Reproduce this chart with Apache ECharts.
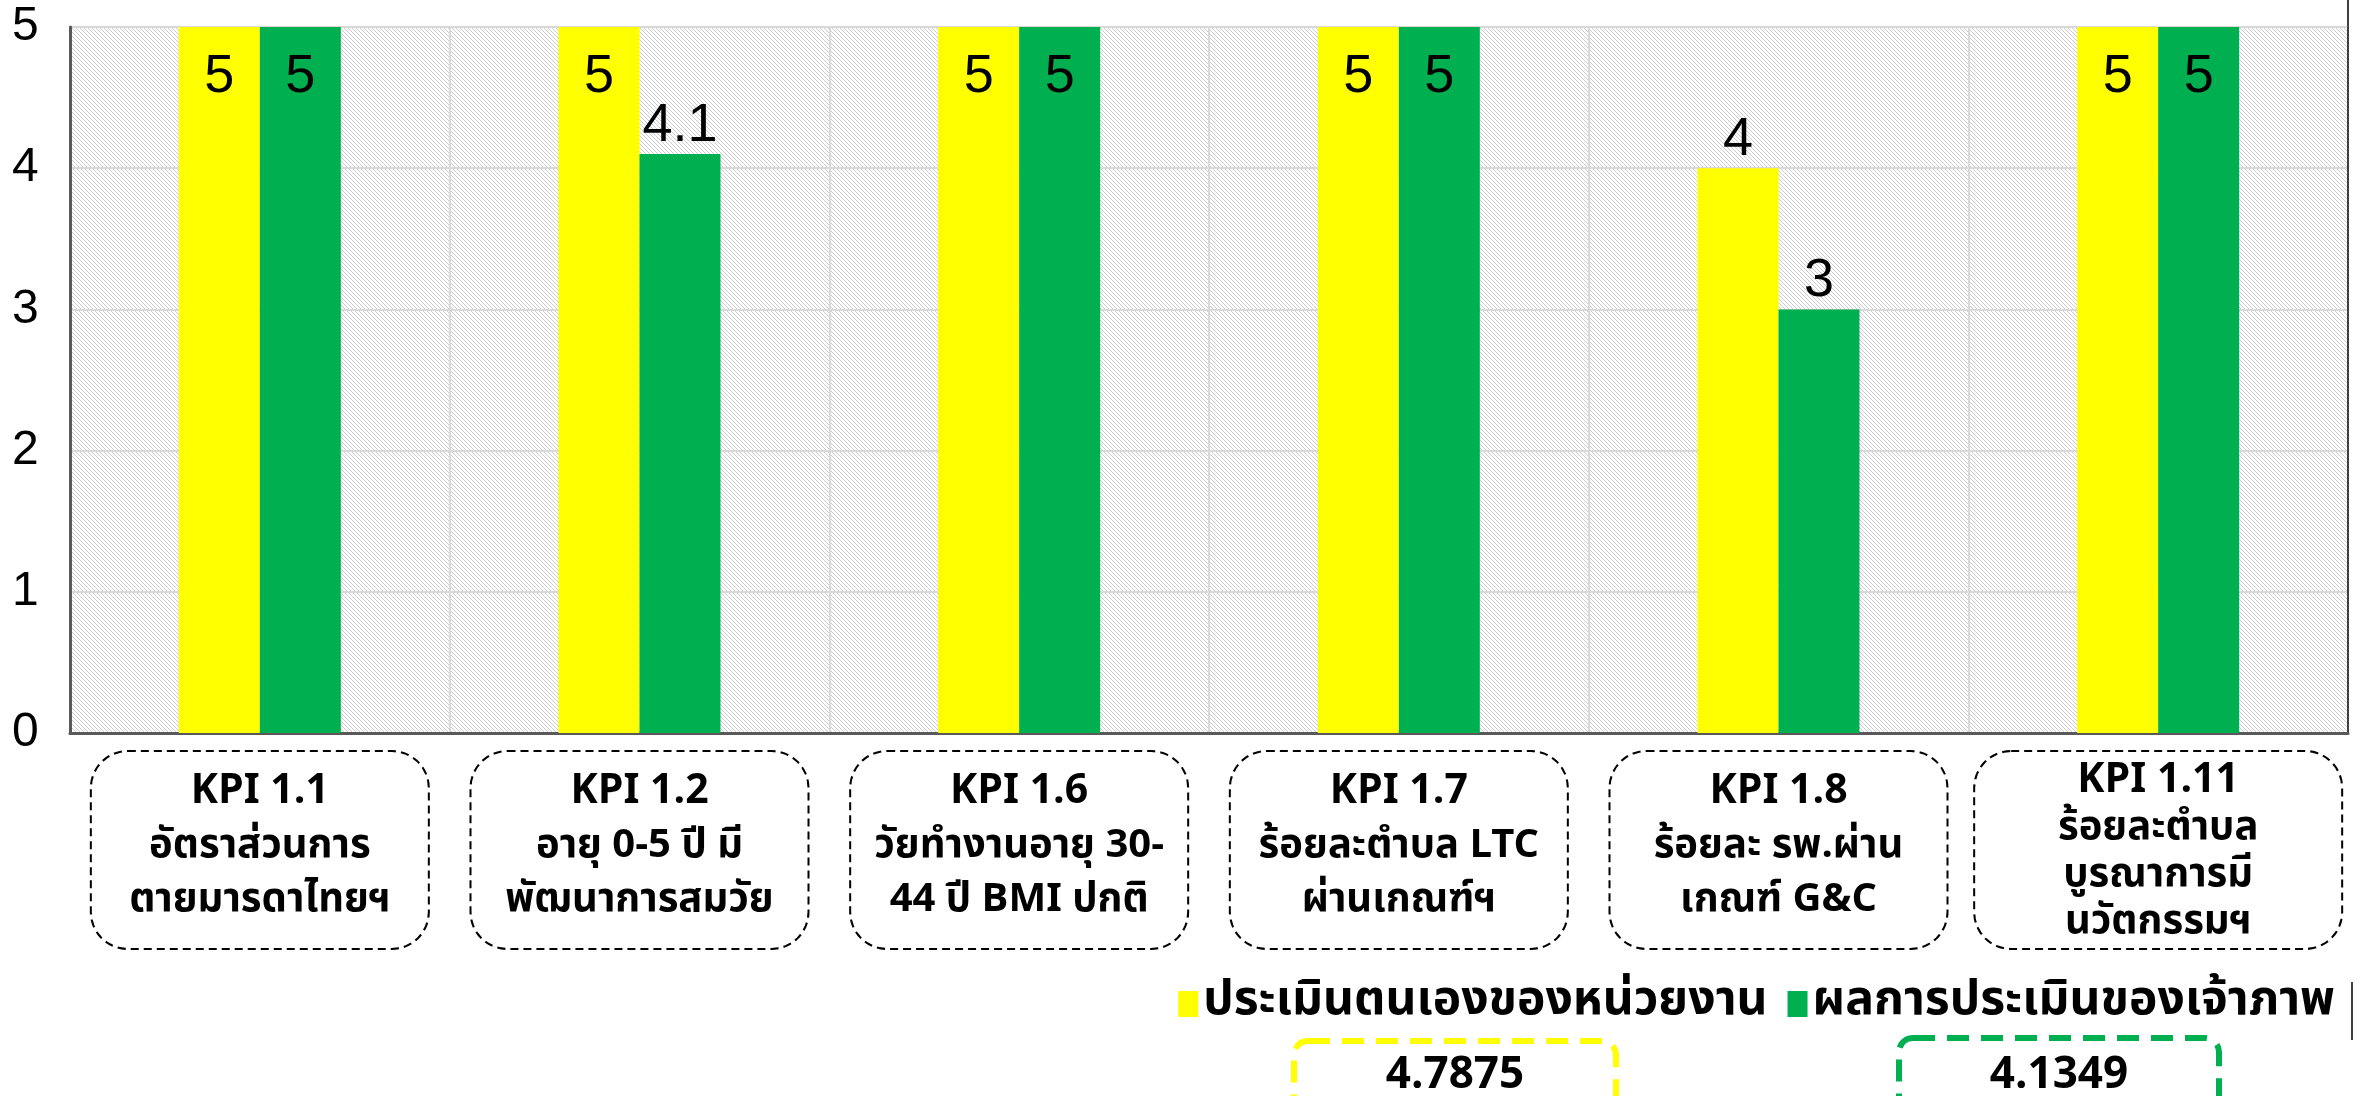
<!DOCTYPE html>
<html>
<head>
<meta charset="utf-8">
<script src="https://cdn.jsdelivr.net/npm/echarts@6/dist/echarts.min.js"></script>
<style>
  html, body { margin: 0; padding: 0; background: #fff; }
  #main { width: 2362px; height: 1096px; }
</style>
</head>
<body>
<div id="main"></div>
<script>
// ข้อมูล
var categories = [
  'KPI 1.1\nอัตราส่วนการ\nตายมารดาไทยฯ',
  'KPI 1.2\nอายุ 0-5 ปี มี\nพัฒนาการสมวัย',
  'KPI 1.6\nวัยทำงานอายุ 30-\n44 ปี BMI ปกติ',
  'KPI 1.7\nร้อยละตำบล LTC\nผ่านเกณฑ์ฯ',
  'KPI 1.8\nร้อยละ รพ.ผ่าน\nเกณฑ์ G&C',
  'KPI 1.11\nร้อยละตำบล\nบูรณาการมี\nนวัตกรรมฯ'
];
var seriesNames = ['ประเมินตนเองของหน่วยงาน', 'ผลการประเมินของเจ้าภาพ'];
var selfScores = [5, 5, 5, 5, 4, 5];
var hostScores = [5, 4.1, 5, 5, 3, 5];
var summaryValues = ['4.7875', '4.1349'];
var yTicks = [0, 1, 2, 3, 4, 5];

var YELLOW = '#FFFF00';
var GREEN = '#00B050';
var thaiFont = "Tahoma, 'Noto Sans Thai', 'Noto Sans Thai Looped', 'DejaVu Sans', sans-serif";
var numFont = "'Liberation Sans Narrow', 'Liberation Sans', sans-serif";

// ลายเส้นทแยงพื้นหลัง
var tile = document.createElement('canvas');
tile.width = 4;
tile.height = 4;
var tctx = tile.getContext('2d');
tctx.fillStyle = '#ffffff';
tctx.fillRect(0, 0, 4, 4);
tctx.fillStyle = '#cdcdcd';
for (var i = 0; i < 4; i++) {
  tctx.fillRect(i, i, 1, 1);
}

function barData(values) {
  var top = yTicks[yTicks.length - 1];
  return values.map(function (v) {
    return {
      value: v,
      label: v >= top ? {position: 'insideTop', distance: 23} : {position: 'top', distance: 1}
    };
  });
}

var catData = categories.map(function (c, idx) {
  var lines = c.split('\n');
  var txt = '{k|' + lines[0] + '}';
  for (var j = 1; j < lines.length; j++) txt += '\n{t|' + lines[j] + '}';
  var item = {value: c, _text: txt};
  if (lines.length > 3) {
    item.textStyle = {padding: [8, 8, 0, 8], width: 350, rich: {
      k: {lineHeight: 47}, t: {lineHeight: 47}
    }};
  }
  return item;
});

var chart = echarts.init(document.getElementById('main'));
var option = {
  backgroundColor: '#fff',
  animation: false,
  grid: {
    left: 70, right: 14, top: 27, bottom: 363,
    show: true,
    backgroundColor: {image: tile, repeat: 'repeat'},
    borderWidth: 0
  },
  legend: {
    data: seriesNames,
    right: 22,
    top: 975,
    icon: 'rect',
    itemWidth: 20,
    itemHeight: 26,
    itemGap: 20,
    itemTextGap: 10,
    textStyle: {
      fontFamily: thaiFont,
      fontWeight: 'bold',
      fontSize: 48,
      color: '#000'
    }
  },
  xAxis: {
    type: 'category',
    data: catData,
    axisLine: {lineStyle: {color: '#595959', width: 3}},
    axisTick: {show: false},
    splitLine: {show: true, lineStyle: {color: '#d9d9d9', width: 2}},
    axisLabel: {
      interval: 0,
      margin: 19,
      formatter: function (val, idx) { return catData[idx]._text; },
      width: 320,
      padding: [16, 8, 18, 8],
      borderColor: '#000',
      borderWidth: 2,
      borderType: [8, 5],
      borderRadius: 36,
      backgroundColor: '#fff',
      align: 'center',
      rich: {
        k: {fontFamily: thaiFont, fontWeight: 'bold', fontSize: 41, lineHeight: 54, color: '#000', align: 'center'},
        t: {fontFamily: thaiFont, fontWeight: 'bold', fontSize: 40, lineHeight: 54, color: '#000', align: 'center'}
      }
    }
  },
  yAxis: [{
    type: 'value',
    min: 0,
    max: 5,
    interval: 1,
    axisLine: {show: true, lineStyle: {color: '#595959', width: 3}},
    axisTick: {show: false},
    splitLine: {lineStyle: {color: '#d9d9d9', width: 2}},
    axisLabel: {
      margin: 58,
      align: 'left',
      fontFamily: numFont,
      fontSize: 48,
      color: '#000'
    }
  }, {
    type: 'value',
    position: 'right',
    min: 0,
    max: 5,
    interval: 1,
    axisLine: {show: true, lineStyle: {color: '#404040', width: 2}},
    axisTick: {show: false},
    axisLabel: {show: false},
    splitLine: {show: false}
  }],
  series: [{
    name: seriesNames[0],
    type: 'bar',
    data: barData(selfScores),
    itemStyle: {color: YELLOW},
    barWidth: 81,
    barGap: '0%',
    label: {show: true, fontFamily: numFont, fontSize: 54, color: '#000'}
  }, {
    name: seriesNames[1],
    type: 'bar',
    data: barData(hostScores),
    itemStyle: {color: GREEN},
    barWidth: 81,
    barGap: '0%',
    label: {show: true, fontFamily: numFont, fontSize: 54, color: '#000'}
  }],
  graphic: [
    {
      type: 'line',
      shape: {x1: 2348, y1: 0, x2: 2348, y2: 30},
      style: {stroke: '#404040', lineWidth: 2}
    },
    {
      type: 'line',
      shape: {x1: 2352, y1: 982, x2: 2352, y2: 1040},
      style: {stroke: '#404040', lineWidth: 2}
    },
    {
      type: 'group',
      left: 1291,
      top: 1038,
      children: [
        {type: 'rect', shape: {x: 0, y: 0, width: 322, height: 72, r: 14},
          style: {fill: '#fff', stroke: YELLOW, lineWidth: 6, lineDash: [22, 12]}},
        {type: 'text', x: 161, y: 38,
          style: {text: summaryValues[0], fontFamily: thaiFont, fontWeight: 'bold', fontSize: 44,
            fill: '#000', align: 'center', verticalAlign: 'middle'}}
      ]
    },
    {
      type: 'group',
      left: 1896,
      top: 1035,
      children: [
        {type: 'rect', shape: {x: 0, y: 0, width: 320, height: 75, r: 14},
          style: {fill: '#fff', stroke: GREEN, lineWidth: 6, lineDash: [22, 12]}},
        {type: 'text', x: 160, y: 41,
          style: {text: summaryValues[1], fontFamily: thaiFont, fontWeight: 'bold', fontSize: 44,
            fill: '#000', align: 'center', verticalAlign: 'middle'}}
      ]
    }
  ]
};
chart.setOption(option);
</script>
</body>
</html>
